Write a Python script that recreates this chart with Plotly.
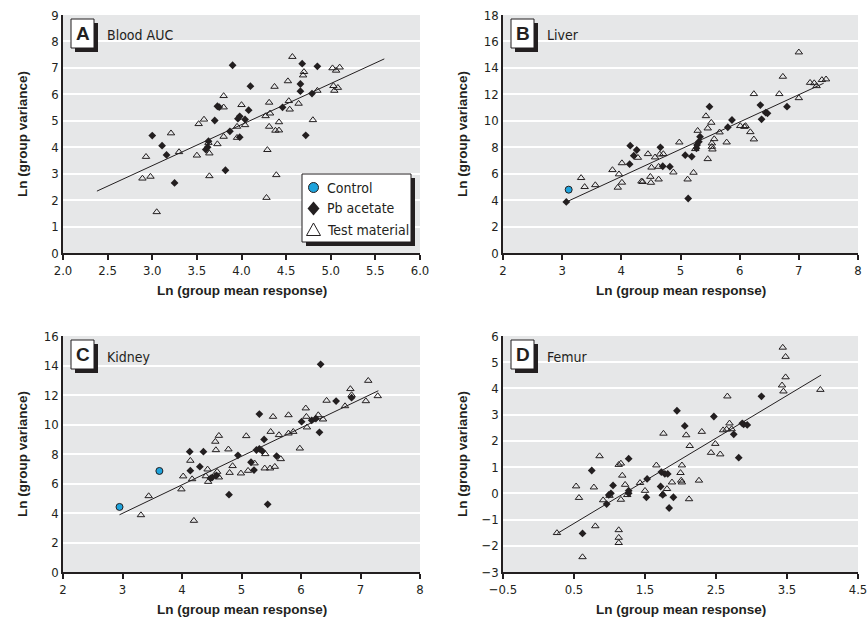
import plotly.graph_objects as go

W, H = 867, 626

# ---------------- data ----------------
# Panel A: Blood AUC
a_pb_x = [3.00, 3.11, 3.16, 3.25, 3.60, 3.62, 3.63, 3.70, 3.73, 3.75, 3.82, 3.87, 3.90, 3.96, 3.98, 3.98,
          4.04, 4.08, 4.10, 4.46, 4.66, 4.66, 4.68, 4.72, 4.79, 4.85]
a_pb_y = [4.44, 4.06, 3.71, 2.65, 3.91, 4.00, 4.23, 5.01, 5.55, 5.52, 3.13, 4.60, 7.10, 5.08, 5.17, 4.38,
          5.05, 5.40, 6.31, 5.51, 6.39, 6.12, 7.16, 4.45, 6.03, 7.06]
a_tm_x = [2.89, 2.93, 2.98, 3.05, 3.21, 3.30, 3.50, 3.52, 3.58, 3.63, 3.64, 3.64, 3.73, 3.80, 3.80, 3.80,
          3.95, 3.95, 4.00, 4.04, 4.27, 4.28, 4.29, 4.31, 4.31, 4.32, 4.37, 4.38, 4.39, 4.42, 4.42, 4.52,
          4.54, 4.53, 4.57, 4.64, 4.69, 4.70, 4.80, 4.85, 5.02, 5.03, 5.04, 5.06, 5.08, 5.10]
a_tm_y = [2.82, 3.64, 2.89, 1.55, 4.53, 3.82, 3.69, 4.88, 5.05, 4.17, 3.77, 2.91, 4.12, 5.94, 5.51, 4.40,
          4.78, 4.36, 5.60, 4.84, 5.18, 2.09, 3.90, 5.69, 4.78, 5.28, 6.29, 4.63, 2.95, 4.64, 4.95, 6.50,
          5.43, 5.75, 7.42, 5.65, 6.72, 6.85, 5.03, 6.14, 6.99, 6.32, 6.14, 6.90, 6.25, 7.02]
a_fit_x = [2.38, 5.60]
a_fit_y = [2.34, 7.34]

# Panel B: Liver
b_ct_x = [3.11]
b_ct_y = [4.79]
b_pb_x = [3.07, 4.14, 4.15, 4.21, 4.26, 4.66, 4.70, 4.82, 5.08, 5.13, 5.19, 5.27, 5.28, 5.31, 5.33, 5.49,
          5.80, 5.87, 6.35, 6.37, 6.44, 6.47, 6.80]
b_pb_y = [3.86, 6.72, 8.12, 7.36, 7.79, 7.99, 6.56, 6.53, 7.40, 4.12, 7.29, 7.92, 8.17, 8.42, 8.80, 11.07,
          9.51, 10.06, 11.19, 10.11, 10.61, 10.56, 11.07]
b_tm_x = [3.32, 3.38, 3.56, 3.85, 3.94, 3.96, 4.01, 4.01, 4.28, 4.34, 4.36, 4.45, 4.49, 4.50, 4.51, 4.57,
          4.63, 4.63, 4.65, 4.71, 4.88, 4.98, 5.12, 5.22, 5.25, 5.29, 5.43, 5.46, 5.46, 5.52, 5.53, 5.53,
          5.54, 5.57, 5.66, 5.78, 6.01, 6.08, 6.10, 6.18, 6.24, 6.24, 6.67, 6.73, 7.00, 7.00, 7.19, 7.26,
          7.30, 7.39, 7.46]
b_tm_y = [5.68, 5.00, 5.14, 6.28, 4.95, 5.96, 5.33, 6.80, 7.21, 5.42, 5.38, 7.49, 5.77, 5.32, 6.47, 7.24,
          6.53, 5.57, 7.46, 7.49, 6.10, 8.37, 5.57, 6.08, 7.87, 9.25, 10.36, 7.11, 9.43, 9.86, 8.30, 8.04,
          7.84, 8.62, 9.13, 8.37, 9.61, 9.55, 9.61, 9.15, 8.60, 12.03, 12.03, 13.34, 15.18, 11.72, 12.88,
          12.85, 12.63, 13.09, 13.14]
b_fit_x = [3.07, 7.42]
b_fit_y = [3.86, 12.84]

# Panel C: Kidney
c_ct_x = [2.95, 3.62]
c_ct_y = [4.41, 6.85]
c_pb_x = [4.13, 4.14, 4.30, 4.36, 4.48, 4.51, 4.58, 4.79, 4.94, 5.16, 5.21, 5.25, 5.30, 5.30, 5.35, 5.38,
          5.44, 5.59, 6.01, 6.18, 6.25, 6.31, 6.33, 6.59, 6.85]
c_pb_y = [8.16, 6.87, 7.14, 8.16, 6.35, 6.42, 6.55, 5.24, 7.91, 7.44, 6.91, 8.27, 8.35, 10.71, 8.20, 8.99,
          4.59, 7.86, 10.19, 10.28, 10.40, 9.47, 14.08, 11.59, 11.82]
c_tm_x = [3.31, 3.44, 3.99, 4.02, 4.14, 4.17, 4.20, 4.40, 4.43, 4.44, 4.56, 4.57, 4.59, 4.62, 4.62, 4.78,
          4.80, 4.85, 4.99, 5.08, 5.11, 5.22, 5.39, 5.40, 5.48, 5.49, 5.53, 5.56, 5.63, 5.66, 5.79, 5.79,
          5.87, 5.98, 6.08, 6.09, 6.10, 6.29, 6.37, 6.43, 6.74, 6.83, 6.85, 7.09, 7.13, 7.29]
c_tm_y = [3.86, 5.15, 5.61, 6.49, 7.55, 6.30, 3.48, 6.50, 6.96, 6.12, 8.84, 8.27, 6.80, 9.24, 6.42, 8.32,
          6.73, 7.19, 6.69, 9.22, 6.87, 7.37, 7.03, 8.00, 7.03, 9.51, 10.53, 7.14, 9.29, 7.66, 10.64, 9.40,
          9.51, 8.38, 11.10, 10.53, 9.81, 10.64, 10.35, 11.62, 11.25, 12.41, 12.00, 11.59, 12.97, 11.93]
c_fit_x = [2.95, 7.30]
c_fit_y = [3.88, 12.29]

# Panel D: Femur
d_pb_x = [0.62, 0.75, 0.96, 0.99, 1.02, 1.05, 1.27, 1.27, 1.27, 1.52, 1.53, 1.72, 1.73, 1.75, 1.78, 1.82,
          1.84, 1.90, 1.95, 2.06, 2.47, 2.75, 2.82, 2.87, 2.89, 2.94, 3.14]
d_pb_y = [-1.53, 0.87, -0.41, -0.06, 0.00, 0.30, 1.32, 0.10, 0.00, -0.15, 0.55, 0.26, 0.81, -0.06, 0.74,
          0.74, -0.56, -0.15, 3.15, 2.57, 2.93, 2.25, 1.36, 2.67, 2.63, 2.61, 3.70]
d_tm_x = [0.26, 0.53, 0.57, 0.62, 0.78, 0.80, 0.86, 0.91, 1.00, 1.13, 1.16, 1.13, 1.13, 1.13, 1.16, 1.18,
          1.22, 1.25, 1.43, 1.50, 1.66, 1.75, 1.76, 1.81, 1.88, 2.00, 2.01, 2.02, 2.02, 2.08, 2.12, 2.13,
          2.26, 2.30, 2.43, 2.49, 2.56, 2.60, 2.65, 2.66, 2.69, 2.72, 3.43, 3.44, 3.45, 3.48, 3.48, 3.97]
d_tm_y = [-1.51, 0.27, -0.17, -2.43, 0.23, -1.25, 1.42, -0.26, -0.09, 1.09, 1.14, -1.40, -1.69, -1.89,
          -0.24, 0.68, 0.33, -0.06, 0.40, 0.10, 1.07, -0.03, 2.28, 0.17, 0.42, 0.78, 0.49, 1.07, 0.42, 2.22,
          -0.22, 1.81, 0.49, 2.35, 1.55, 1.89, 1.49, 2.41, 2.44, 3.70, 2.67, 2.45, 4.12, 5.56, 3.89, 5.21,
          4.43, 3.95]
d_fit_x = [0.265, 3.98]
d_fit_y = [-1.53, 4.51]

panel_letters = ["A", "B", "C", "D"]
panel_names = ["Blood AUC", "Liver", "Kidney", "Femur"]
legend_labels = ["Control", "Pb acetate", "Test material"]
x_title = "Ln (group mean response)"
y_title = "Ln (group variance)"

# ---------------- styling ----------------
BLUE = "#1ea3dc"
BG = "#e6e7e8"
INK = "#231f20"
NARROW = "DejaVu Sans Condensed, Liberation Sans Narrow, Arial Narrow, sans-serif"
TICKFONT = dict(family=NARROW, size=13, color=INK)
TITLEFONT = dict(family="Liberation Sans, Arial, sans-serif", size=13.5, color=INK)


def pxx(x):
    return x / W


def pyy(y):
    return 1 - y / H


fig = go.Figure()

pb_marker = dict(symbol="diamond", size=6, color=INK, line=dict(width=0))
tm_marker = dict(symbol="triangle-up-open", size=6.5, color=INK, line=dict(width=1, color=INK))
ct_marker = dict(symbol="circle", size=7, color=BLUE, line=dict(width=1, color=INK))


def add_panel(n, ct, pb, tm, fit):
    xa = "x" if n == 1 else f"x{n}"
    ya = "y" if n == 1 else f"y{n}"
    fig.add_trace(go.Scatter(x=fit[0], y=fit[1], mode="lines", line=dict(color=INK, width=1),
                             xaxis=xa, yaxis=ya, showlegend=False, hoverinfo="skip"))
    fig.add_trace(go.Scatter(x=tm[0], y=tm[1], mode="markers", marker=tm_marker, name=legend_labels[2],
                             showlegend=False, xaxis=xa, yaxis=ya))
    fig.add_trace(go.Scatter(x=pb[0], y=pb[1], mode="markers", marker=pb_marker, name=legend_labels[1],
                             showlegend=False, xaxis=xa, yaxis=ya))
    if ct is not None:
        fig.add_trace(go.Scatter(x=ct[0], y=ct[1], mode="markers", marker=ct_marker, name=legend_labels[0],
                                 showlegend=False, xaxis=xa, yaxis=ya))


add_panel(1, None, (a_pb_x, a_pb_y), (a_tm_x, a_tm_y), (a_fit_x, a_fit_y))
add_panel(2, (b_ct_x, b_ct_y), (b_pb_x, b_pb_y), (b_tm_x, b_tm_y), (b_fit_x, b_fit_y))
add_panel(3, (c_ct_x, c_ct_y), (c_pb_x, c_pb_y), (c_tm_x, c_tm_y), (c_fit_x, c_fit_y))
add_panel(4, None, (d_pb_x, d_pb_y), (d_tm_x, d_tm_y), (d_fit_x, d_fit_y))

# panel pixel boxes: (left, right, top, bottom)
boxes = [(63, 420, 15, 253), (503, 858, 15, 253), (63, 420, 336, 572), (503, 858, 336, 572)]
xranges = [[2, 6], [2, 8], [2, 8], [-0.5, 4.5]]
yranges = [[0, 9], [0, 18], [0, 16], [-3, 6]]
xdt = [0.5, 1, 1, 1]
ydt = [1, 2, 2, 1]
xfmt = [".1f", "d", "d", ".1f"]

layout = dict(width=W, height=H, margin=dict(l=0, r=0, t=0, b=0, autoexpand=False), paper_bgcolor="white",
              plot_bgcolor=BG, showlegend=False)
for i, (l, r, t, b) in enumerate(boxes):
    k = "" if i == 0 else str(i + 1)
    layout["xaxis" + k] = dict(domain=[pxx(l), pxx(r)], range=xranges[i], dtick=xdt[i], tick0=xranges[i][0],
                               tickformat=xfmt[i], showgrid=False, zeroline=False, showline=True,
                               linecolor=INK, linewidth=1.5, ticks="outside", ticklen=5,
                               tickcolor=INK, tickwidth=1.5, tickfont=TICKFONT, automargin=False,
                               ticklabeloverflow="allow", anchor="y" + k, fixedrange=True)
    layout["yaxis" + k] = dict(domain=[pyy(b), pyy(t)], range=yranges[i], dtick=ydt[i], tick0=yranges[i][0],
                               showgrid=True, gridcolor="white", gridwidth=1.5, zeroline=False,
                               showline=True, linecolor=INK, linewidth=1.5, ticks="", automargin=False,
                               ticklabeloverflow="allow", tickfont=TICKFONT, anchor="x" + k, fixedrange=True)
fig.update_layout(**layout)

shapes = []
annotations = []


def P(x, y):
    return f"{pxx(x):.5f},{pyy(y):.5f}"


# ---- manual legend (panel A) ----
lx0, lx1, ly0, ly1 = 302, 411, 174, 242
shapes.append(dict(type="rect", xref="paper", yref="paper", x0=pxx(lx0 + 4), x1=pxx(lx1 + 4),
                   y0=pyy(ly0 + 4), y1=pyy(ly1 + 4), fillcolor=INK, line=dict(width=0), layer="above"))
shapes.append(dict(type="rect", xref="paper", yref="paper", x0=pxx(lx0), x1=pxx(lx1),
                   y0=pyy(ly0), y1=pyy(ly1), fillcolor="white", line=dict(width=1, color=INK), layer="above"))
rows = [187.5, 208.5, 229.5]
mx = 313.5
# control circle
shapes.append(dict(type="circle", xref="paper", yref="paper", x0=pxx(mx - 5), x1=pxx(mx + 5),
                   y0=pyy(rows[0] - 5), y1=pyy(rows[0] + 5), fillcolor=BLUE, line=dict(width=1, color=INK),
                   layer="above"))
# Pb acetate diamond
ry = rows[1]
shapes.append(dict(type="path", xref="paper", yref="paper",
                   path=f"M{P(mx, ry - 7)} L{P(mx + 6, ry)} L{P(mx, ry + 7)} L{P(mx - 6, ry)} Z",
                   fillcolor=INK, line=dict(width=0), layer="above"))
# Test material triangle
ry = rows[2]
shapes.append(dict(type="path", xref="paper", yref="paper",
                   path=f"M{P(mx, ry - 6.5)} L{P(mx + 7, ry + 6)} L{P(mx - 7, ry + 6)} Z",
                   fillcolor="white", line=dict(width=1, color=INK), layer="above"))
for lab, ry in zip(legend_labels, rows):
    annotations.append(dict(text=lab, xref="paper", yref="paper", x=pxx(325), y=pyy(ry), showarrow=False,
                            xanchor="left", yanchor="middle", font=dict(family=NARROW, size=14, color=INK)))

for i, (l, r, t, b) in enumerate(boxes):
    bx0, bx1, by0, by1 = l + 8, l + 31, t + 4, t + 33
    shapes.append(dict(type="rect", xref="paper", yref="paper", x0=pxx(bx0 + 4), x1=pxx(bx1 + 4),
                       y0=pyy(by0 + 4), y1=pyy(by1 + 4), fillcolor=INK, line=dict(width=0), layer="above"))
    shapes.append(dict(type="rect", xref="paper", yref="paper", x0=pxx(bx0), x1=pxx(bx1),
                       y0=pyy(by0), y1=pyy(by1), fillcolor="white", line=dict(width=1, color=INK),
                       layer="above"))
    annotations.append(dict(text=f"<b>{panel_letters[i]}</b>", xref="paper", yref="paper",
                            x=pxx((bx0 + bx1) / 2), y=pyy((by0 + by1) / 2), showarrow=False,
                            xanchor="center", yanchor="middle",
                            font=dict(family="Liberation Sans, Arial, sans-serif", size=19, color=INK)))
    annotations.append(dict(text=panel_names[i], xref="paper", yref="paper", x=pxx(bx1 + 11),
                            y=pyy((by0 + by1) / 2 + 2), showarrow=False, xanchor="left", yanchor="middle",
                            font=dict(family=NARROW, size=14, color=INK)))
    # axis titles
    annotations.append(dict(text=f"<b>{x_title}</b>", xref="paper", yref="paper", x=pxx((l + r) / 2),
                            y=pyy(b + 37), showarrow=False, xanchor="center", yanchor="middle", font=TITLEFONT))
    annotations.append(dict(text=f"<b>{y_title}</b>", xref="paper", yref="paper", x=pxx(l - 41),
                            y=pyy((t + b) / 2), showarrow=False, xanchor="center", yanchor="middle",
                            textangle=-90, font=TITLEFONT))

fig.update_layout(shapes=shapes, annotations=annotations)

fig.write_html("out.html")
